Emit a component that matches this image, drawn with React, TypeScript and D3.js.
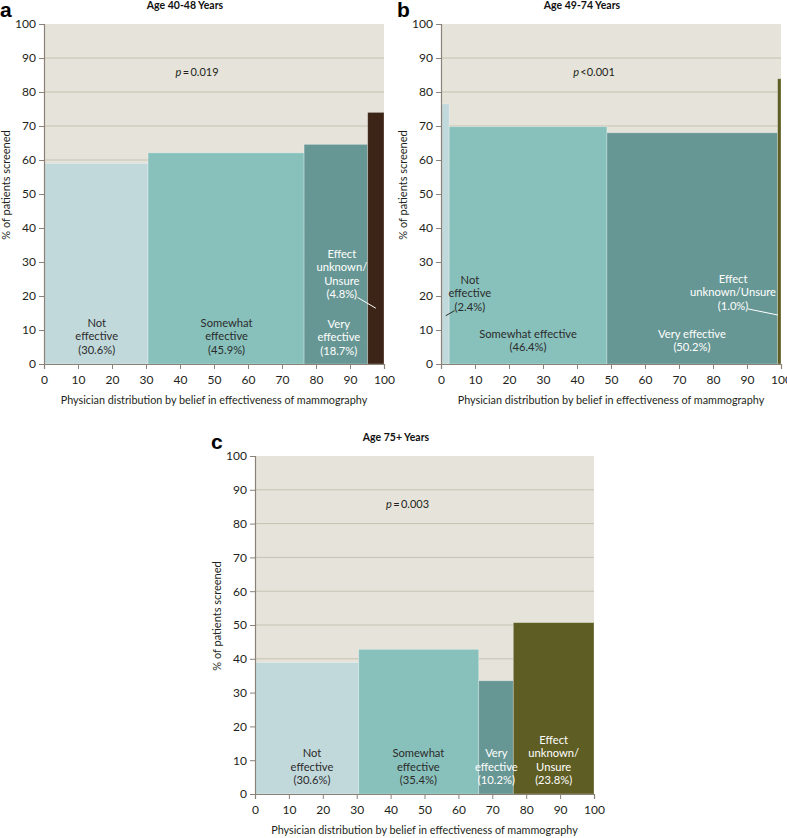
import { useEffect, useRef } from 'react';
import * as d3 from 'd3';

// belief categories, left to right in every panel
const categories = ['Not effective', 'Somewhat effective', 'Very effective', 'Effect unknown/Unsure'];
const xTicks = [0, 10, 20, 30, 40, 50, 60, 70, 80, 90, 100];
const yTicks = [0, 10, 20, 30, 40, 50, 60, 70, 80, 90, 100];

// physician share (bar width, %) and patients screened (bar height, %)
const sharesA = [30.6, 45.9, 18.7, 4.8];
const screenedA = [59.0, 62.1, 64.6, 74.0];
const sharesB = [2.4, 46.4, 50.2, 1.0];
const screenedB = [76.5, 69.8, 68.0, 83.9];
const sharesC = [30.6, 35.4, 10.2, 23.8];
const screenedC = [38.9, 42.8, 33.5, 50.7];

const colorsA = ['#c2d9dc', '#88c1bc', '#679794', '#3c2517'];
const colorsBC = ['#c2d9dc', '#88c1bc', '#679794', '#5e5d23'];

interface BarLabel {
  cat: number;
  lines: string[];
  x: number;
  y: number;
  light?: boolean;
  leader?: [number, number, number, number];
}

const labelsA: BarLabel[] = [
  { cat: 0, lines: ['Not', 'effective'], x: 15.5, y: 11.8 },
  { cat: 1, lines: ['Somewhat', 'effective'], x: 53.7, y: 11.8 },
  { cat: 2, lines: ['Very', 'effective'], x: 86.7, y: 11.4, light: true },
  { cat: 3, lines: ['Effect', 'unknown/', 'Unsure'], x: 87.6, y: 32.0, light: true, leader: [92.2, 19.6, 97.6, 16.4] },
];
const labelsB: BarLabel[] = [
  { cat: 0, lines: ['Not', 'effective'], x: 8.5, y: 24.4, leader: [4.0, 15.7, 1.4, 14.2] },
  { cat: 1, lines: ['Somewhat effective'], x: 25.6, y: 8.5 },
  { cat: 2, lines: ['Very effective'], x: 73.8, y: 8.5, light: true },
  { cat: 3, lines: ['Effect', 'unknown/Unsure'], x: 85.9, y: 24.7, light: true, leader: [90.3, 16.2, 99.1, 14.4] },
];
const labelsC: BarLabel[] = [
  { cat: 0, lines: ['Not', 'effective'], x: 16.8, y: 11.7 },
  { cat: 1, lines: ['Somewhat', 'effective'], x: 48.2, y: 11.7 },
  { cat: 2, lines: ['Very', 'effective'], x: 71.2, y: 11.7, light: true },
  { cat: 3, lines: ['Effect', 'unknown/', 'Unsure'], x: 88.1, y: 15.7, light: true },
];

const panels = [
  { letter: 'a', title: 'Age 40-48 Years', p: '\u2009=\u20090.019', shares: sharesA, screened: screenedA, colors: colorsA, labels: labelsA, left: 44, top: 24, w: 340, h: 340 },
  { letter: 'b', title: 'Age 49-74 Years', p: '\u2009<0.001', shares: sharesB, screened: screenedB, colors: colorsBC, labels: labelsB, left: 441, top: 24, w: 340, h: 340 },
  { letter: 'c', title: 'Age 75+ Years', p: '\u2009=\u20090.003', shares: sharesC, screened: screenedC, colors: colorsBC, labels: labelsC, left: 255, top: 456, w: 339, h: 338 },
];

const FONT = 'Lato, "Open Sans", sans-serif';

export default function App() {
  const svgRef = useRef<SVGSVGElement>(null);

  useEffect(() => {
    if (!svgRef.current) return;
    const svg = d3.select(svgRef.current);
    svg.selectAll('*').remove();

    svg.append('rect').attr('width', 787).attr('height', 838).attr('fill', '#ffffff');

    panels.forEach(panel => {
      const x = d3.scaleLinear().domain([0, 100]).range([0, panel.w]);
      const y = d3.scaleLinear().domain([0, 100]).range([panel.h, 0]);
      const g = svg.append('g').attr('transform', 'translate(' + panel.left + ',' + panel.top + ')')
        .style('font-family', FONT);

      g.append('rect').attr('x', 0).attr('y', 0).attr('width', panel.w).attr('height', panel.h).attr('fill', '#e6e4da');

      g.selectAll('.grid').data(yTicks.filter(t => t > 0 && t < 100)).enter().append('line')
        .attr('x1', 0).attr('x2', panel.w).attr('y1', d => y(d)).attr('y2', d => y(d))
        .attr('stroke', '#c6c1b2').attr('stroke-width', 1);

      // mosaic bars: width = physician share, height = screened
      const starts = panel.shares.map((_, i) => d3.sum(panel.shares.slice(0, i)));
      const bars = panel.shares.map((s, i) => ({ x0: starts[i], x1: starts[i] + s, v: panel.screened[i], i }));
      g.selectAll('.bar').data(bars).enter().append('rect')
        .attr('x', d => x(d.x0)).attr('width', d => x(d.x1) - x(d.x0))
        .attr('y', d => y(d.v)).attr('height', d => y(0) - y(d.v))
        .attr('fill', d => panel.colors[d.i])
        .attr('stroke', 'rgba(255,255,255,0.35)').attr('stroke-width', 0.8);

      // axes
      const axisColor = '#8a8279';
      const yAxis = g.append('g').call(d3.axisLeft(y).tickValues(yTicks).tickSize(5).tickPadding(3));
      const xAxis = g.append('g').attr('transform', 'translate(0,' + panel.h + ')')
        .call(d3.axisBottom(x).tickValues(xTicks).tickSize(5).tickPadding(6));
      [yAxis, xAxis].forEach(ax => {
        ax.select('.domain').attr('stroke', axisColor).attr('stroke-width', 1.2);
        ax.selectAll('.tick line').attr('stroke', axisColor);
        ax.selectAll('.tick text').attr('fill', '#231f20').style('font-size', '12px').style('font-family', FONT);
      });
      xAxis.selectAll('.tick text').attr('dy', '0.71em');

      g.append('text').attr('x', panel.w / 2).attr('y', panel.h + 37).attr('text-anchor', 'middle')
        .attr('dominant-baseline', 'middle').attr('fill', '#231f20').style('font-size', '10.8px')
        .text('Physician distribution by belief in effectiveness of mammography');

      g.append('text').attr('transform', 'translate(-37,' + (panel.h / 2 - 9) + ') rotate(-90)')
        .attr('text-anchor', 'middle').attr('dominant-baseline', 'middle').attr('fill', '#231f20')
        .style('font-size', '11px').text('% of patients screened');

      g.append('text').attr('x', 141).attr('y', -18).attr('text-anchor', 'middle').attr('dominant-baseline', 'middle')
        .attr('fill', '#111').style('font-size', '10.5px').style('font-weight', 'bold').text(panel.title);

      g.append('text').attr('x', -44).attr('y', -7).attr('fill', '#000')
        .style('font-family', 'Arial, "Liberation Sans", sans-serif').style('font-size', '21px').style('font-weight', 'bold')
        .text(panel.letter);

      const pText = g.append('text').attr('x', x(45)).attr('y', y(85.5)).attr('text-anchor', 'middle')
        .attr('dominant-baseline', 'middle').attr('fill', '#231f20').style('font-size', '11px');
      pText.append('tspan').style('font-style', 'italic').text('p');
      pText.append('tspan').text(panel.p);

      panel.labels.forEach(lab => {
        const lines = lab.lines.concat('(' + panel.shares[lab.cat].toFixed(1) + '%)');
        const color = lab.light ? '#ffffff' : '#2b2b2b';
        const t = g.append('text').attr('text-anchor', 'middle').attr('fill', color).style('font-size', '11.2px');
        lines.forEach((line, k) => {
          t.append('tspan').attr('x', x(lab.x)).attr('y', y(lab.y) + k * 13.4).attr('dominant-baseline', 'middle').text(line);
        });
        if (lab.leader) {
          g.append('line').attr('x1', x(lab.leader[0])).attr('y1', y(lab.leader[1]))
            .attr('x2', x(lab.leader[2])).attr('y2', y(lab.leader[3]))
            .attr('stroke', color).attr('stroke-width', 1);
        }
      });
    });
  }, []);

  return (
    <svg ref={svgRef} width={787} height={838}
      style={{ position: 'absolute', left: 0, top: 0, display: 'block' }}
      aria-label={categories.join(', ')}></svg>
  );
}
